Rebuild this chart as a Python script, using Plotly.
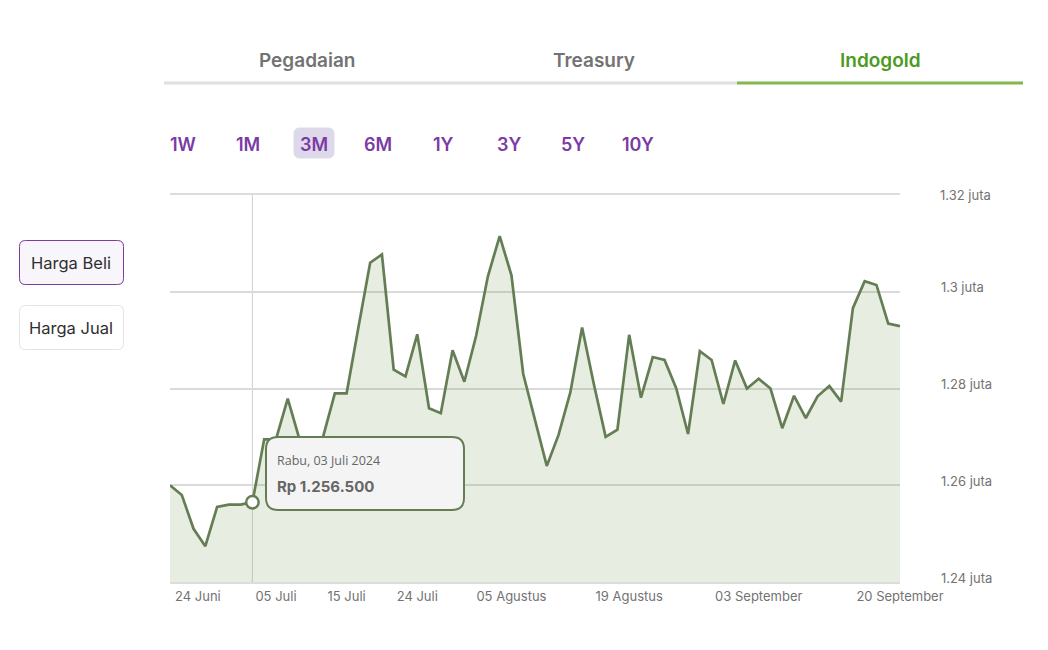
import plotly.graph_objects as go

W = 1048
H = 650
LEFT, RIGHT, TOP, BOTTOM = 170, 900, 195, 582

dates = ["2024-06-24", "2024-06-25", "2024-06-26", "2024-06-27", "2024-06-28", "2024-07-01", "2024-07-02",
         "2024-07-03", "2024-07-04", "2024-07-05", "2024-07-08", "2024-07-09", "2024-07-10", "2024-07-11",
         "2024-07-12", "2024-07-15", "2024-07-16", "2024-07-17", "2024-07-18", "2024-07-19", "2024-07-22",
         "2024-07-24", "2024-07-25", "2024-07-26", "2024-07-29", "2024-07-30", "2024-07-31", "2024-08-01",
         "2024-08-02", "2024-08-05", "2024-08-06", "2024-08-07", "2024-08-08", "2024-08-09", "2024-08-12",
         "2024-08-13", "2024-08-14", "2024-08-15", "2024-08-16", "2024-08-19", "2024-08-20", "2024-08-21",
         "2024-08-22", "2024-08-23", "2024-08-26", "2024-08-27", "2024-08-28", "2024-08-29", "2024-08-30",
         "2024-09-02", "2024-09-03", "2024-09-04", "2024-09-05", "2024-09-06", "2024-09-09", "2024-09-10",
         "2024-09-11", "2024-09-12", "2024-09-13", "2024-09-17", "2024-09-18", "2024-09-19", "2024-09-20"]
harga_beli = [1260000, 1258000, 1251000, 1247400, 1255500, 1256000, 1256000,
              1256500, 1269500, 1269500, 1277900, 1269500, 1266000, 1270000,
              1279000, 1279000, 1292600, 1306000, 1307700, 1283900, 1282500,
              1291200, 1275900, 1274900, 1287900, 1281400, 1290900, 1303200,
              1311500, 1303400, 1283000, 1273700, 1264000, 1270400, 1279200,
              1292600, 1280900, 1270000, 1271500, 1291100, 1278100, 1286500,
              1285900, 1280000, 1270600, 1287700, 1285900, 1276800, 1285800,
              1280000, 1282000, 1280000, 1271800, 1278500, 1273900, 1278400,
              1280500, 1277300, 1296600, 1302200, 1301400, 1293400, 1292900]

y_ticks = [1240000, 1260000, 1280000, 1300000, 1320000]
y_labels = ["1.24 juta", "1.26 juta", "1.28 juta", "1.3 juta", ""]
x_ticks = ["2024-06-24", "2024-07-05", "2024-07-15", "2024-07-24", "2024-08-05", "2024-08-19", "2024-09-03", "2024-09-20"]
x_labels = ["", "05 Juli", "15 Juli", "24 Juli", "05 Agustus", "19 Agustus", "03 September", "20 September"]
tabs = ["Pegadaian", "Treasury", "Indogold"]
ranges = ["1W", "1M", "3M", "6M", "1Y", "3Y", "5Y", "10Y"]

GREEN = "#657d55"
PURPLE = "#7b3ba5"
FONT = "Inter"


# page pixels to paper coordinates of the plot area
def px(x):
    return (x - LEFT) / (RIGHT - LEFT)


def py(y):
    return (BOTTOM - y) / (BOTTOM - TOP)


def rrect(x0, y0, x1, y1, r, fill, line, width=1):
    path = (f"M {px(x0 + r)} {py(y0)} L {px(x1 - r)} {py(y0)} Q {px(x1)} {py(y0)} {px(x1)} {py(y0 + r)} "
            f"L {px(x1)} {py(y1 - r)} Q {px(x1)} {py(y1)} {px(x1 - r)} {py(y1)} "
            f"L {px(x0 + r)} {py(y1)} Q {px(x0)} {py(y1)} {px(x0)} {py(y1 - r)} "
            f"L {px(x0)} {py(y0 + r)} Q {px(x0)} {py(y0)} {px(x0 + r)} {py(y0)} Z")
    return dict(type="path", xref="paper", yref="paper", path=path, fillcolor=fill,
                line=dict(color=line, width=width), layer="above")


def label(x, y, text, size, color, anchor="center", weight=400, family=FONT):
    return dict(xref="paper", yref="paper", x=px(x), y=py(y), text=text, showarrow=False,
                xanchor=anchor, yanchor="middle", font=dict(family=family, size=size, color=color, weight=weight))


fig = go.Figure()
fig.add_trace(go.Scatter(x=dates, y=harga_beli, mode="lines", fill="tozeroy",
                         fillcolor="rgba(120,160,90,0.18)", line=dict(color=GREEN, width=2.7), hoverinfo="skip"))
fig.add_trace(go.Scatter(x=[dates[7]], y=[harga_beli[7]], mode="markers", hoverinfo="skip",
                         marker=dict(size=12.5, color="white", line=dict(color=GREEN, width=2.5))))

shapes = [
    dict(type="line", xref="x", yref="paper", x0=dates[7], x1=dates[7], y0=0, y1=1,
         line=dict(color="#cfcfcf", width=1), layer="below"),
    dict(type="line", xref="paper", yref="paper", x0=px(164), x1=px(737), y0=py(83), y1=py(83),
         line=dict(color="#e0e0e0", width=3)),
    dict(type="line", xref="paper", yref="paper", x0=px(737), x1=px(1023), y0=py(83), y1=py(83),
         line=dict(color="#80b84f", width=3)),
    rrect(294, 128, 334, 158, 6, "#ded9ea", "#ded9ea"),
    rrect(19.5, 240.5, 123.5, 284.5, 6, "#f8f6fb", PURPLE),
    rrect(19.5, 305.5, 123.5, 349.5, 6, "#ffffff", "#e3e3e3"),
    rrect(266, 437, 464, 510, 12, "#f4f4f4", GREEN, 2),
]

annotations = [
    label(307, 61, tabs[0], 19, "#737373", weight=600),
    label(593.5, 61, tabs[1], 19, "#737373", weight=600),
    label(880, 61, tabs[2], 19, "#4c9a1e", weight=600),
    label(71, 262.5, "Harga Beli", 16.5, "#2f2f2f"),
    label(71, 327.5, "Harga Jual", 16.5, "#2f2f2f"),
    label(275, 460, "Rabu, 03 Juli 2024", 12.5, "#666666", "left", family="Open Sans"),
    label(275, 486, "Rp 1.256.500", 15, "#666666", "left", weight=700),
    label(173, 596, "24 Juni", 13, "#737373", "left"),
    label(938, 195, "1.32 juta", 13, "#737373", "left"),
]
for name, cx in zip(ranges, [183, 248, 313.5, 378, 443, 508.5, 573, 638]):
    annotations.append(label(cx, 144, name, 18, PURPLE, weight=600))

fig.update_layout(
    width=W, height=H, showlegend=False,
    paper_bgcolor="white", plot_bgcolor="white",
    margin=dict(l=LEFT, r=W - RIGHT, t=TOP, b=H - BOTTOM),
    font=dict(family=FONT, size=13, color="#737373"),
    shapes=shapes, annotations=annotations,
    xaxis=dict(type="category", categoryorder="array", categoryarray=dates, range=[0, len(dates) - 1],
               tickmode="array", tickvals=x_ticks, ticktext=x_labels, showgrid=False, zeroline=False,
               showline=True, mirror=True, linecolor="#dcdcdc", linewidth=1.5,
               ticks="", ticklabelstandoff=2, tickangle=0),
    yaxis=dict(range=[1240000, 1320000], side="right", tickmode="array", tickvals=y_ticks, ticktext=y_labels,
               gridcolor="#dadada", gridwidth=1.5, zeroline=False, ticks="", ticklabelstandoff=40,
               ticklabelshift=-4),
)

fig.write_html("out.html", config=dict(displayModeBar=False), post_script="document.body.style.margin='0';")
